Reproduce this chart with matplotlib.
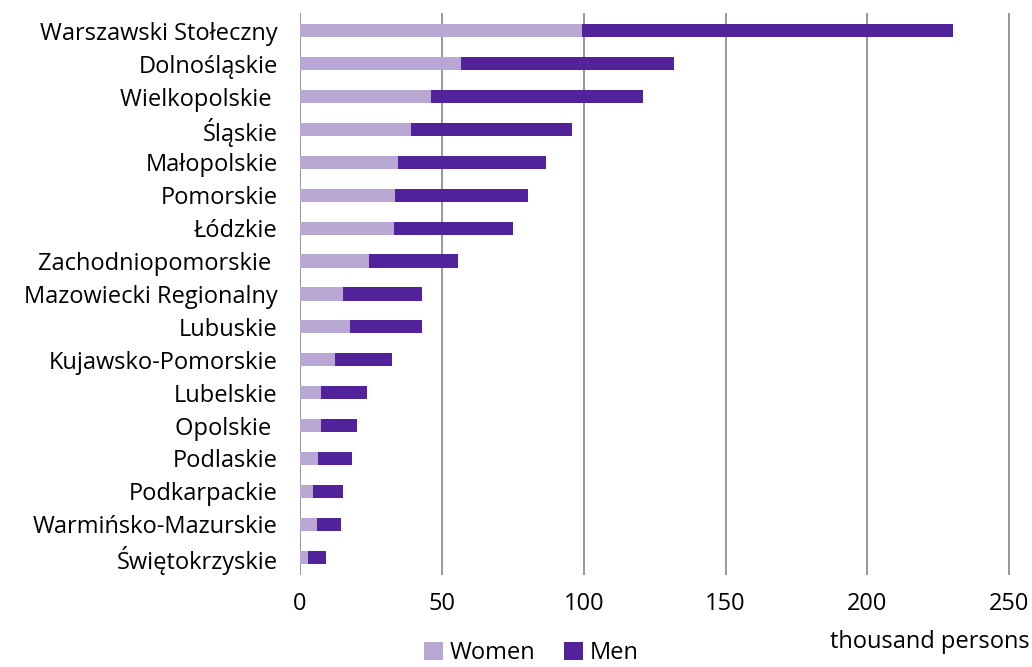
import matplotlib
matplotlib.use("Agg")
import matplotlib.pyplot as plt

regions = ["Warszawski Stołeczny", "Dolnośląskie", "Wielkopolskie ", "Śląskie",
           "Małopolskie", "Pomorskie", "Łódzkie", "Zachodniopomorskie ",
           "Mazowiecki Regionalny", "Lubuskie", "Kujawsko-Pomorskie", "Lubelskie",
           "Opolskie ", "Podlaskie", "Podkarpackie", "Warmińsko-Mazurskie",
           "Świętokrzyskie"]
women = [99.4, 56.9, 46.2, 39.0, 34.4, 33.5, 33.0, 24.4, 15.0, 17.7, 12.2,
         7.3, 7.3, 6.5, 4.6, 6.0, 2.8]
men = [130.6, 74.9, 74.7, 56.7, 52.3, 46.9, 42.0, 31.2, 28.1, 25.4, 20.4,
       16.3, 12.7, 11.7, 10.4, 8.5, 6.4]
ticks = [0, 50, 100, 150, 200, 250]

plt.rcParams['font.family'] = ['Open Sans', 'DejaVu Sans']
fs = 17

fig = plt.figure(figsize=(10.32, 6.67), dpi=100)
ax = fig.add_axes([0.2907, 0.138, 0.69, 0.8425])

y = list(range(len(regions)))
ax.barh(y, women, height=0.4, color='#b8a6d3', label='Women', zorder=3)
ax.barh(y, men, left=women, height=0.4, color='#51229a', label='Men', zorder=3)

ax.set_ylim(len(regions) - 0.5 + 0.04, -0.5 - 0.04)
ax.set_xlim(0, 251)
ax.set_yticks(y)
ax.set_yticklabels(regions, fontsize=fs)
ax.set_xticks(ticks)
ax.set_xticklabels([str(t) for t in ticks], fontsize=fs)
ax.tick_params(axis='y', length=0, pad=16)
ax.tick_params(axis='x', length=0, pad=12)
for s in ax.spines.values():
    s.set_visible(False)
ax.grid(axis='x', color='#8f8f8f', linewidth=1.3, zorder=0)

fig.text(0.998, 0.038, 'thousand persons', ha='right', va='center', fontsize=fs)
fig.legend(loc='lower center', bbox_to_anchor=(0.515, -0.022), ncol=2, frameon=False,
           fontsize=fs, handlelength=0.8, handleheight=0.8, handletextpad=0.3,
           columnspacing=1.2, borderpad=0.2)

fig.savefig('out.png', dpi=100)
